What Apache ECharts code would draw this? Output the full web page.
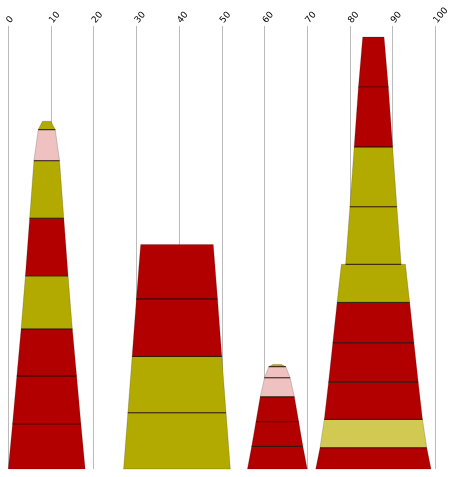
<!DOCTYPE html>
<html>
<head>
<meta charset="utf-8">
<script src="https://cdn.jsdelivr.net/npm/echarts@6/dist/echarts.min.js"></script>
<style>
  html, body { margin: 0; padding: 0; background: #fff; }
  #chart { width: 452px; height: 477px; }
</style>
</head>
<body>
<div id="chart"></div>
<script>
// tower footprints on the x axis (bottom edge)
const towerFrom = [0, 27, 56, 72];
const towerTo = [18, 52, 70, 99];

// segment heights, bottom to top, and their group
const tower1Values = [10.2, 10.8, 10.6, 12.0, 13.0, 13.0, 7.0, 1.9];
const tower1Kinds = ['A', 'A', 'A', 'B', 'A', 'B', 'C', 'B'];
const tower2Values = [12.7, 12.7, 13.0, 12.3];
const tower2Kinds = ['B', 'B', 'A', 'A'];
const tower3Values = [5.1, 5.6, 5.6, 4.3, 2.5, 0.5];
const tower3Kinds = ['A', 'A', 'A', 'C', 'C', 'B'];
const tower4Values = [4.8, 6.4, 8.4, 8.9, 9.1, 8.6, 0, 13.0, 13.5, 13.5, 11.3];
const tower4Kinds = ['A', 'D', 'A', 'A', 'A', 'B', 'B', 'B', 'B', 'A', 'A'];

const kindColors = { A: '#b20000', B: '#b3aa00', C: '#efc1c1', D: '#d1c952' };

var myChart = echarts.init(document.getElementById('chart'));

const allValues = [tower1Values, tower2Values, tower3Values, tower4Values];
const allKinds = [tower1Kinds, tower2Kinds, tower3Kinds, tower4Kinds];

// every segment is a trapezoid, one unit narrower on each side than the one below
let rows = [];
allValues.forEach((vals, t) => {
  let base = 0;
  vals.forEach((v, i) => {
    rows.push([
      towerFrom[t] + i, towerTo[t] - i,
      towerFrom[t] + i + 1, towerTo[t] - i - 1,
      base, base + v, allKinds[t][i]
    ]);
    base += v;
  });
});

function renderItem(params, api) {
  if (api.value(5) - api.value(4) <= 0) return;
  const bl = api.coord([api.value(0), api.value(4)]);
  const br = api.coord([api.value(1), api.value(4)]);
  const tl = api.coord([api.value(2), api.value(5)]);
  const tr = api.coord([api.value(3), api.value(5)]);
  let children = [{
    type: 'polygon',
    shape: { points: [bl, br, tr, tl] },
    style: {
      fill: kindColors[rows[params.dataIndex][6]],
      stroke: 'rgba(0,0,0,0.22)',
      lineWidth: 0.8
    }
  }];
  // dark seam where a segment sits on another one
  if (api.value(4) > 0) {
    children.push({
      type: 'line',
      shape: { x1: bl[0], y1: bl[1], x2: br[0], y2: br[1] },
      style: { stroke: 'rgba(30,15,0,0.85)', lineWidth: 1 }
    });
  }
  return { type: 'group', children: children };
}

myChart.setOption({
  animation: false,
  grid: { left: 8.3, right: 16.7, top: 26, bottom: 8 },
  xAxis: {
    type: 'value',
    position: 'top',
    min: 0,
    max: 100,
    interval: 10,
    axisLine: { show: false },
    axisTick: { show: false },
    axisLabel: {
      rotate: 50,
      margin: 4,
      fontSize: 9,
      color: '#000',
      fontFamily: 'DejaVu Sans'
    },
    splitLine: { show: true, lineStyle: { color: '#bbbbbb', width: 1 } }
  },
  yAxis: {
    type: 'value',
    min: 0,
    max: 100,
    show: false,
    splitLine: { show: false }
  },
  series: [{
    type: 'custom',
    renderItem: renderItem,
    encode: { x: [0, 1, 2, 3], y: [4, 5] },
    data: rows.map(r => r.slice(0, 6))
  }]
});
</script>
</body>
</html>
